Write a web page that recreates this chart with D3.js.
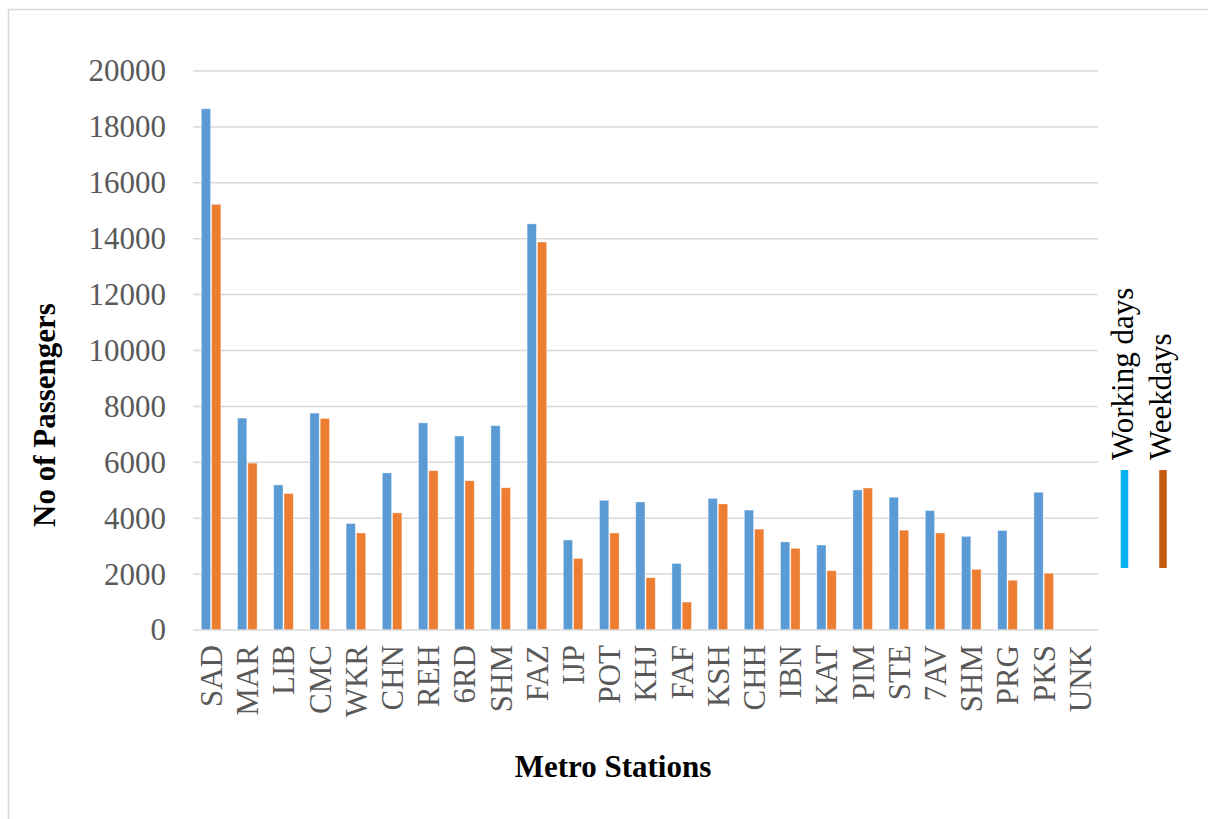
<!DOCTYPE html>
<html>
<head>
<meta charset="utf-8">
<script src="https://cdn.jsdelivr.net/npm/d3@7"></script>
<style>
  html, body { margin: 0; padding: 0; background: #fff; }
  svg { display: block; }
  text { font-family: "Liberation Serif", "Times New Roman", serif; }
</style>
</head>
<body>
<svg id="chart" width="1208" height="819"></svg>
<script>
// Passenger counts per metro station
const stations = ["SAD","MAR","LIB","CMC","WKR","CHN","REH","6RD","SHM","FAZ","IJP","POT","KHJ","FAF","KSH","CHH","IBN","KAT","PIM","STE","7AV","SHM ","PRG","PKS","UNK"];
const workingDays = [18650,7580,5190,7760,3810,5620,7410,6940,7310,14530,3220,4640,4580,2380,4710,4290,3150,3040,5010,4750,4270,3350,3560,4930,0];
const weekdays    = [15230,5970,4880,7570,3470,4190,5700,5340,5090,13880,2560,3470,1870,1000,4510,3610,2920,2120,5080,3570,3470,2170,1780,2030,0];
const yTicks = [0,2000,4000,6000,8000,10000,12000,14000,16000,18000,20000];

const seriesNames = ["Working days","Weekdays"];
const barColors = ["#5B9BD5","#ED7D31"];
const legendColors = ["#00B0F0","#C55A11"];

const svg = d3.select("#chart");
const W = 1208, H = 819;
const plot = { left: 193, right: 1098, top: 71, bottom: 630 };

svg.append("rect").attr("width", W).attr("height", H).attr("fill", "#fff");
// outer chart frame
svg.append("rect")
  .attr("x", 8.5).attr("y", 9.5).attr("width", W + 10).attr("height", H + 10)
  .attr("fill", "none").attr("stroke", "#d9d9d9").attr("stroke-width", 1.5);

const y = d3.scaleLinear().domain([0, 20000]).range([plot.bottom, plot.top]);
const x0 = d3.scaleBand().domain(d3.range(stations.length))
  .range([plot.left, plot.right]).paddingInner(0.46).paddingOuter(0.23);
const x1 = d3.scaleBand().domain([0, 1]).range([0, x0.bandwidth()]).paddingInner(0.1);

// horizontal gridlines
svg.append("g")
  .selectAll("line").data(yTicks.filter(t => t > 0)).join("line")
  .attr("x1", plot.left).attr("x2", plot.right)
  .attr("y1", d => y(d)).attr("y2", d => y(d))
  .attr("stroke", "#d9d9d9").attr("stroke-width", 1.5);

// y axis labels
const yAxis = d3.axisLeft(y).tickValues(yTicks).tickSize(0).tickPadding(0).tickFormat(d3.format("d"));
const gy = svg.append("g").attr("transform", `translate(${plot.left - 27},0)`).call(yAxis);
gy.select(".domain").remove();
gy.selectAll("text")
  .attr("fill", "#595959").style("font-size", "31px")
  .style("font-family", "'Liberation Serif', 'Times New Roman', serif");

// bars
const series = [workingDays, weekdays];
const groups = svg.append("g").selectAll("g").data(series).join("g")
  .attr("fill", (d, i) => barColors[i]);
groups.each(function(vals, si) {
  d3.select(this).selectAll("rect").data(vals).join("rect")
    .attr("x", (d, i) => x0(i) + x1(si))
    .attr("width", x1.bandwidth())
    .attr("y", d => y(d))
    .attr("height", d => y(0) - y(d))
    .attr("stroke", "#ffffff").attr("stroke-opacity", 0.45).attr("stroke-width", 0.8);
});

// x axis
const xAxis = d3.axisBottom(x0).tickSize(0).tickPadding(0).tickFormat(i => stations[i]);
const gx = svg.append("g").attr("transform", `translate(0,${plot.bottom})`).call(xAxis);
gx.select(".domain").remove();
gx.selectAll("text")
  .attr("fill", "#595959").style("font-size", "31px")
  .style("font-family", "'Liberation Serif', 'Times New Roman', serif")
  .attr("text-anchor", "end")
  .attr("transform", "rotate(-90)")
  .attr("x", -15).attr("y", 0).attr("dy", "0.35em");
svg.append("line")
  .attr("x1", plot.left).attr("x2", plot.right)
  .attr("y1", plot.bottom).attr("y2", plot.bottom)
  .attr("stroke", "#d9d9d9").attr("stroke-width", 1.5);

// axis titles
svg.append("text")
  .attr("transform", `translate(55,415) rotate(-90)`)
  .attr("text-anchor", "middle")
  .style("font-size", "31px").style("font-weight", "bold").attr("fill", "#000")
  .text("No of Passengers");
svg.append("text")
  .attr("x", 613).attr("y", 777)
  .attr("text-anchor", "middle")
  .style("font-size", "31px").style("font-weight", "bold").attr("fill", "#000")
  .text("Metro Stations");

// legend (vertical)
const legendX = [1124.5, 1163];
const leg = svg.append("g").selectAll("g").data(seriesNames).join("g")
  .attr("transform", (d, i) => `translate(${legendX[i]},0)`);
leg.append("line")
  .attr("x1", 0).attr("x2", 0).attr("y1", 470).attr("y2", 568)
  .attr("stroke", (d, i) => legendColors[i]).attr("stroke-width", 7.5);
leg.append("text")
  .attr("transform", "translate(8,460) rotate(-90)")
  .attr("text-anchor", "start")
  .style("font-size", "31px").attr("fill", "#000")
  .text(d => d);
</script>
</body>
</html>
